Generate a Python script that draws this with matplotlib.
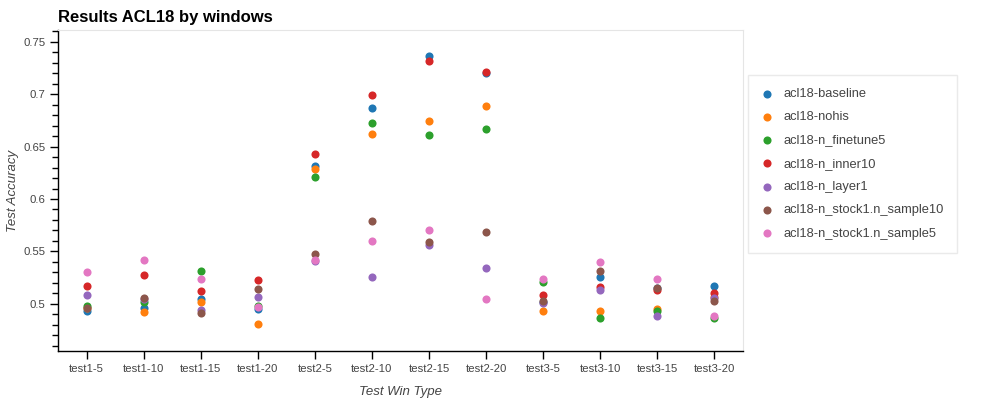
import numpy as np
import matplotlib.pyplot as plt
from matplotlib.ticker import MultipleLocator, FixedLocator

plt.rcParams['font.family'] = ['Liberation Sans', 'DejaVu Sans']

windows = ['test1-5', 'test1-10', 'test1-15', 'test1-20',
           'test2-5', 'test2-10', 'test2-15', 'test2-20',
           'test3-5', 'test3-10', 'test3-15', 'test3-20']

# accuracy per run, one value per window
baseline = [0.493, 0.496, 0.505, 0.495, 0.631, 0.687, 0.736, 0.720, 0.502, 0.526, 0.515, 0.517]
nohis = [0.496, 0.492, 0.502, 0.481, 0.629, 0.662, 0.674, 0.689, 0.493, 0.493, 0.495, 0.507]
finetune5 = [0.498, 0.502, 0.531, 0.498, 0.621, 0.672, 0.661, 0.667, 0.521, 0.487, 0.493, 0.487]
inner10 = [0.517, 0.528, 0.512, 0.523, 0.643, 0.699, 0.731, 0.721, 0.509, 0.516, 0.513, 0.510]
layer1 = [0.509, 0.505, 0.494, 0.507, 0.541, 0.526, 0.556, 0.534, 0.501, 0.513, 0.489, 0.506]
sample10 = [0.496, 0.506, 0.491, 0.514, 0.548, 0.579, 0.559, 0.569, 0.503, 0.531, 0.515, 0.503]
sample5 = [0.530, 0.542, 0.524, 0.497, 0.542, 0.560, 0.570, 0.505, 0.524, 0.540, 0.524, 0.489]

runs = ['acl18-baseline', 'acl18-nohis', 'acl18-n_finetune5', 'acl18-n_inner10',
        'acl18-n_layer1', 'acl18-n_stock1.n_sample10', 'acl18-n_stock1.n_sample5']
series = [baseline, nohis, finetune5, inner10, layer1, sample10, sample5]
colors = ['#1f77b4', '#ff7f0e', '#2ca02c', '#d62728', '#9467bd', '#8c564b', '#e377c2']

fig = plt.figure(figsize=(10, 4), dpi=100)
ax = fig.add_axes([0.058, 0.1225, 0.685, 0.8025])

x = np.arange(len(windows))
for name, vals, c in zip(runs, series, colors):
    ax.scatter(x, vals, s=34, color=c, label=name, linewidths=0, zorder=3)

ax.set_xlim(-0.5, len(windows) - 0.5)
ax.set_ylim(0.4552, 0.761)
ax.set_xticks(x)
ax.set_xticklabels(windows)
ax.yaxis.set_major_locator(FixedLocator([0.5, 0.55, 0.6, 0.65, 0.7, 0.75]))
ax.set_yticklabels(['0.5', '0.55', '0.6', '0.65', '0.7', '0.75'])
ax.yaxis.set_minor_locator(MultipleLocator(0.01))

ax.tick_params(axis='both', which='major', direction='out', length=6, width=1,
               labelsize=8.2, labelcolor='#444444', pad=3)
ax.tick_params(axis='y', which='minor', direction='out', length=4, width=1)

for side in ['top', 'right']:
    ax.spines[side].set_color('#e5e5e5')
for side in ['left', 'bottom']:
    ax.spines[side].set_color('black')
    ax.spines[side].set_linewidth(1)

ax.set_xlabel('Test Win Type', fontsize=9.5, style='italic', color='#444444', labelpad=9)
ax.set_ylabel('Test Accuracy', fontsize=9.5, style='italic', color='#444444', labelpad=3)
fig.text(0.058, 0.938, 'Results ACL18 by windows', fontsize=12, fontweight='bold',
         ha='left', va='bottom')

leg = fig.legend(loc='upper left', bbox_to_anchor=(0.748, 0.8125), borderaxespad=0,
                 frameon=True, fancybox=False, edgecolor='#e5e5e5', fontsize=9.3,
                 labelcolor='#444444', handlelength=1.0, handletextpad=0.75,
                 labelspacing=0.87, borderpad=1.0)
leg.get_frame().set_linewidth(1)

fig.savefig('out.png', dpi=100)
